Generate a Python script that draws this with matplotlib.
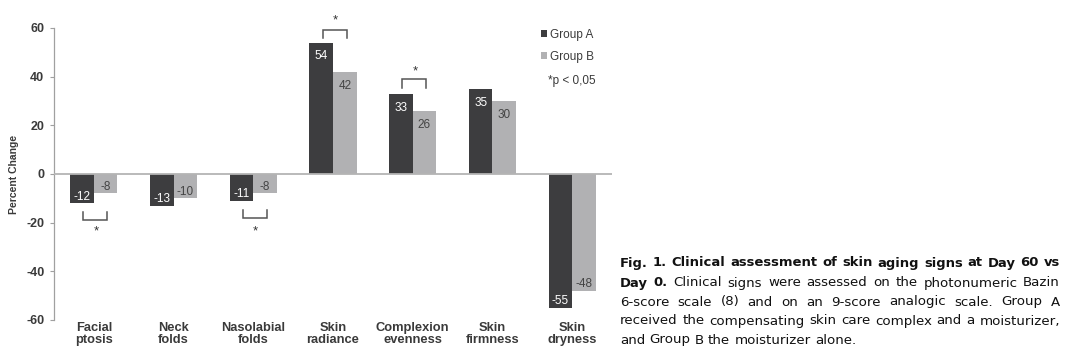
import matplotlib
matplotlib.use("Agg")
import matplotlib.pyplot as plt
import numpy as np

categories = ["Facial\nptosis", "Neck\nfolds", "Nasolabial\nfolds", "Skin\nradiance",
              "Complexion\nevenness", "Skin\nfirmness", "Skin\ndryness"]
group_a = [-12, -13, -11, 54, 33, 35, -55]
group_b = [-8, -10, -8, 42, 26, 30, -48]
series_names = ["Group A", "Group B"]
y_ticks = [-60, -40, -20, 0, 20, 40, 60]
# significance brackets: (category index, bracket level, tip level, star level)
sig_marks = [(0, -18.8, -15.5, -23.5), (2, -18.0, -14.8, -23.5),
             (3, 59.3, 56.0, 63.0), (4, 39.0, 35.5, 42.3)]
caption_lines = [
    [("Fig. 1. Clinical assessment of skin aging signs at Day 60 vs", True)],
    [("Day 0.", True), ("Clinical signs were assessed on the photonumeric Bazin", False)],
    [("6-score scale (8) and on an 9-score analogic scale. Group A", False)],
    [("received the compensating skin care complex and a moisturizer,", False)],
    [("and Group B the moisturizer alone.", False)],
]

DARK = "#3d3d3f"
LIGHT = "#b1b1b3"
TXT = "#3a3a3a"

W, H = 1080, 356
fig = plt.figure(figsize=(W / 100, H / 100), dpi=100)
ax = fig.add_axes([54 / W, 1 - 320 / H, (612 - 54) / W, (320 - 28) / H])

x = np.arange(len(categories))
bw = 0.295
bars_a = ax.bar(x - bw / 2, group_a, bw, color=DARK, label=series_names[0], zorder=2)
bars_b = ax.bar(x + bw / 2, group_b, bw, color=LIGHT, label=series_names[1], zorder=2)

ax.set_xlim(-0.5, len(categories) - 0.5)
ax.set_ylim(-60, 60)
ax.set_yticks(y_ticks)
ax.set_yticklabels([str(v) for v in y_ticks], fontsize=9, fontweight="bold",
                   color=TXT, family="Liberation Sans")
ax.tick_params(axis="y", length=3, width=0.8, color="#a0a0a0", pad=4)
ax.set_xticks([])
for s in ["top", "right", "bottom"]:
    ax.spines[s].set_visible(False)
ax.spines["left"].set_color("#a0a0a0")
ax.spines["left"].set_linewidth(0.9)
ax.axhline(0, color="#b4b4b4", lw=1.3, zorder=3)

ax.set_ylabel("Percent Change", fontsize=7.5, fontweight="bold", color=TXT,
              family="Liberation Sans")
ax.yaxis.set_label_coords(-35 / 558, 0.5)

# category labels at bottom
for i, c in enumerate(categories):
    ax.annotate(c, (i, -60), xytext=(0, -1.5), textcoords="offset points",
                ha="center", va="top", fontsize=9.3, fontweight="bold", color=TXT,
                family="Liberation Sans", linespacing=1.0, annotation_clip=False)

# value labels
def label_bars(bars, vals, col):
    for b, v in zip(bars, vals):
        cx = b.get_x() + b.get_width() / 2
        off = -10 if v > 0 else 4.8
        ax.annotate(str(v), (cx, v), xytext=(0, off), textcoords="offset points",
                    ha="center", va="center", fontsize=8.5, color=col,
                    family="Liberation Sans", zorder=4)

label_bars(bars_a, group_a, "white")
label_bars(bars_b, group_b, "#444444")

# significance brackets
for idx, lvl, tip, star in sig_marks:
    x0, x1 = idx - 0.13, idx + 0.17
    ax.plot([x0, x0, x1, x1], [tip, lvl, lvl, tip], color="#555555", lw=1.1,
            zorder=4, clip_on=False, solid_joinstyle="miter")
    ax.text(idx + 0.03, star, "*", ha="center", va="center", fontsize=9.5,
            color="#333333", family="Liberation Sans")

# legend
leg = ax.legend(handles=[bars_a, bars_b], loc="upper left",
                bbox_to_anchor=(541 / W, 1 - 29 / H), bbox_transform=fig.transFigure,
                frameon=False, handlelength=0.55, handleheight=0.55,
                handletextpad=0.2, labelspacing=0.85, borderpad=0, borderaxespad=0,
                prop={"family": "Liberation Sans", "size": 8.5})
for t in leg.get_texts():
    t.set_color(TXT)
fig.text(548 / W, 1 - 81 / H, "*p < 0,05", fontsize=8.5, color=TXT,
         family="Liberation Sans", ha="left", va="center")

# caption, justified
fig.canvas.draw()
renderer = fig.canvas.get_renderer()
cap_left, cap_right = 620, 1060
line_y = [263, 283, 302, 321, 340]
colw = cap_right - cap_left


def measure(txt, fs, bold):
    t = fig.text(0, 0, txt, fontsize=fs, fontweight="bold" if bold else "normal",
                 family="DejaVu Sans")
    w = t.get_window_extent(renderer).width
    t.remove()
    return w


base = 10.0
reg_nat = max(measure(segs[0][0], base, False) for segs in caption_lines[2:4])
reg_fs = base * colw * 0.99 / reg_nat
bold_nat = measure(caption_lines[0][0][0], reg_fs, True)
bold_fs = min(reg_fs, reg_fs * colw * 0.985 / bold_nat)

for li, (segs, yy) in enumerate(zip(caption_lines, line_y)):
    words = []
    for txt, bold in segs:
        for w in txt.split(" "):
            words.append((w, bold))
    arts = []
    for w, bold in words:
        t = fig.text(0, 1 - yy / H, w, fontsize=bold_fs if bold else reg_fs,
                     fontweight="bold" if bold else "normal",
                     family="DejaVu Sans", color="#111111", va="center", ha="left")
        arts.append(t)
    widths = [a.get_window_extent(renderer).width for a in arts]
    if li == len(caption_lines) - 1:
        gap = measure("a a", reg_fs, False) - measure("aa", reg_fs, False)
    else:
        gap = (colw - sum(widths)) / (len(arts) - 1)
    xx = cap_left
    for a, w in zip(arts, widths):
        a.set_x(xx / W)
        xx += w + gap

fig.savefig("out.png", dpi=100)
